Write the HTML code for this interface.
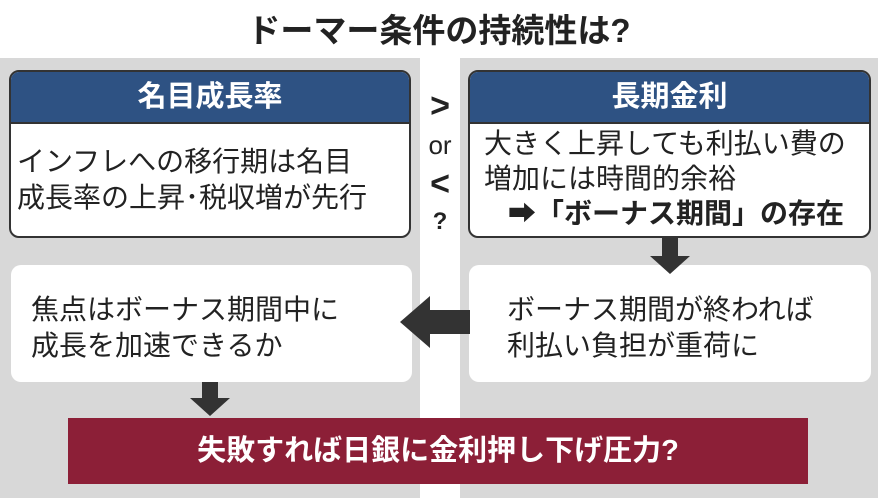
<!DOCTYPE html>
<html><head><meta charset="utf-8"><style>
body{margin:0;width:878px;height:498px;background:#fff;position:relative;overflow:hidden;font-family:"Liberation Sans","Noto Sans CJK JP",sans-serif;color:#222}
.a{position:absolute}
.panel{background:#d8d8d8;top:58px;height:440px}
.box{background:#fff;border:2px solid #333;border-radius:10px;overflow:hidden;box-sizing:border-box}
.hd{background:#2e5283;color:#fff;font-weight:bold;font-size:29px;text-align:center;height:50px;line-height:50px;border-bottom:2px solid #333}
.tx{font-size:28px;line-height:36px;white-space:nowrap}
.wb{background:#fff;border-radius:10px}
</style></head><body>
<div class="a" style="left:0;right:0;top:4px;text-align:center;font-size:33px;font-weight:bold;color:#222">ドーマー条件の持続性は?</div>
<div class="a panel" style="left:0;width:420px"></div>
<div class="a panel" style="left:460px;width:418px"></div>
<div class="a box" style="left:9px;top:70px;width:402px;height:168px">
<div class="hd">名目成長率</div>
<div class="tx" style="padding:20px 0 0 6px">インフレへの移行期は名目<br>成長率の上昇･税収増が先行</div></div>
<div class="a box" style="left:468px;top:70px;width:403px;height:168px">
<div class="hd">長期金利</div>
<div class="tx" style="padding:2px 0 0 14px;line-height:35px">大きく上昇しても利払い費の<br>増加には時間的余裕<br><span style="padding-left:24px;font-weight:bold">➡「ボーナス期間」の存在</span></div></div>
<div class="a" style="left:420px;width:40px;top:88px;text-align:center;font-size:34px;line-height:36px;font-weight:bold">&gt;</div>
<div class="a" style="left:420px;width:40px;top:130px;text-align:center;font-size:26px">or</div>
<div class="a" style="left:420px;width:40px;top:165px;text-align:center;font-size:34px;font-weight:bold">&lt;</div>
<div class="a" style="left:420px;width:40px;top:208px;text-align:center;font-size:24px;font-weight:bold">?</div>
<div class="a wb tx" style="left:11px;top:265px;width:401px;height:117px;box-sizing:border-box;padding:27px 0 0 20px">焦点はボーナス期間中に<br>成長を加速できるか</div>
<div class="a wb tx" style="left:469px;top:265px;width:402px;height:117px;box-sizing:border-box;padding:27px 0 0 38px">ボーナス期間が終われば<br>利払い負担が重荷に</div>
<svg class="a" style="left:0;top:0" width="878" height="498">
<path d="M662 236h16v20h12l-20 18-20-18h12z" fill="#333"/>
<path d="M470 310v24h-40v14l-30-26 30-26v14z" fill="#333"/>
<path d="M202 382h16v16h12l-20 18-20-18h12z" fill="#333"/>
</svg>
<div class="a" style="left:68px;top:418px;width:740px;height:66px;background:#8c1f37;color:#fff;font-weight:bold;font-size:29px;text-align:center;line-height:66px">失敗すれば日銀に金利押し下げ圧力?</div>
</body></html>
